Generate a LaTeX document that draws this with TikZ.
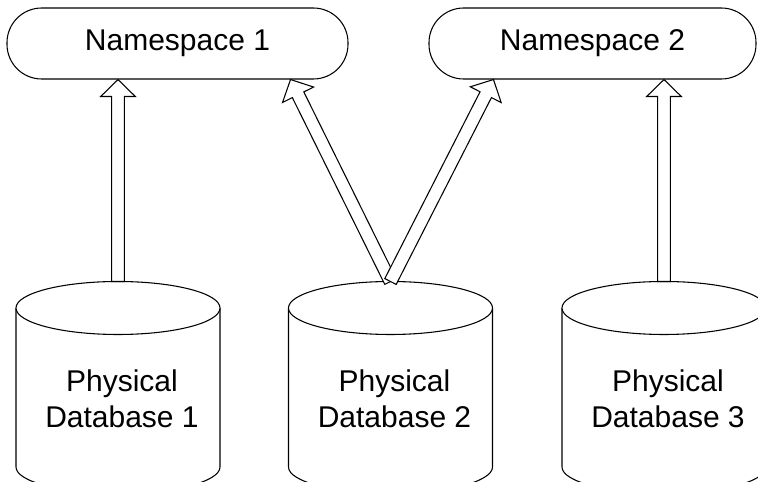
\documentclass[tikz,border=0pt]{standalone}
\usepackage{fontspec}
\setmainfont{Liberation Sans}
\usetikzlibrary{calc}

\tikzset{
  nsbox/.style={draw,line width=0.8pt,rounded corners=26pt,minimum height=53.25pt,
    font=\fontsize{22.5pt}{27pt}\selectfont},
  dbtext/.style={align=center,font=\fontsize{22.5pt}{27pt}\selectfont},
  dbline/.style={line width=0.8pt,fill=white},
  fatline/.style={line width=0.8pt,fill=white,line join=miter}
}

% hollow arrow from #1 to #2
\newcommand{\fatarrow}[2]{%
  \path (#1) coordinate (fa-s) (#2) coordinate (fa-t);
  \path ($(fa-t)!12.75pt!(fa-s)$) coordinate (fa-b);
  \draw[fatline] ($(fa-s)!4.8pt!90:(fa-t)$) -- ($(fa-b)!4.8pt!90:(fa-t)$)
    -- ($(fa-b)!13pt!90:(fa-t)$) -- (fa-t) -- ($(fa-b)!13pt!-90:(fa-t)$)
    -- ($(fa-b)!4.8pt!-90:(fa-t)$) -- ($(fa-s)!4.8pt!-90:(fa-t)$) -- cycle;
}

\begin{document}
\begin{tikzpicture}[x=0.75pt,y=0.75pt]
  \useasboundingbox (0,0) rectangle (758,482);
  \clip (0,0) rectangle (758,482);

  \node[nsbox,minimum width=255.75pt] (ns1) at (177.5,438.5) {Namespace 1};
  \node[nsbox,minimum width=245.25pt] (ns2) at (592.5,438.5) {Namespace 2};

  \foreach \cx/\i in {118/1,390.5/2,664/3}{
    \draw[dbline] (\cx-102,174) -- (\cx-102,15)
      arc[start angle=180,end angle=360,x radius=102,y radius=26.5] -- (\cx+102,174);
    \draw[dbline] (\cx,174) ellipse [x radius=102,y radius=26.5];
    \coordinate (db\i-top) at (\cx,200.5);
    \node[dbtext] (db\i) at (\cx+4,83) {Physical\\Database \i};
  }

  \coordinate (ns1-in) at ([xshift=-43.5pt]ns1.south east);
  \coordinate (ns2-in) at ([xshift=48.75pt]ns2.south west);

  \fatarrow{db1-top}{db1-top |- ns1.south}
  \fatarrow{db2-top}{ns1-in}
  \fatarrow{db2-top}{ns2-in}
  \fatarrow{db3-top}{db3-top |- ns2.south}
\end{tikzpicture}
\end{document}
